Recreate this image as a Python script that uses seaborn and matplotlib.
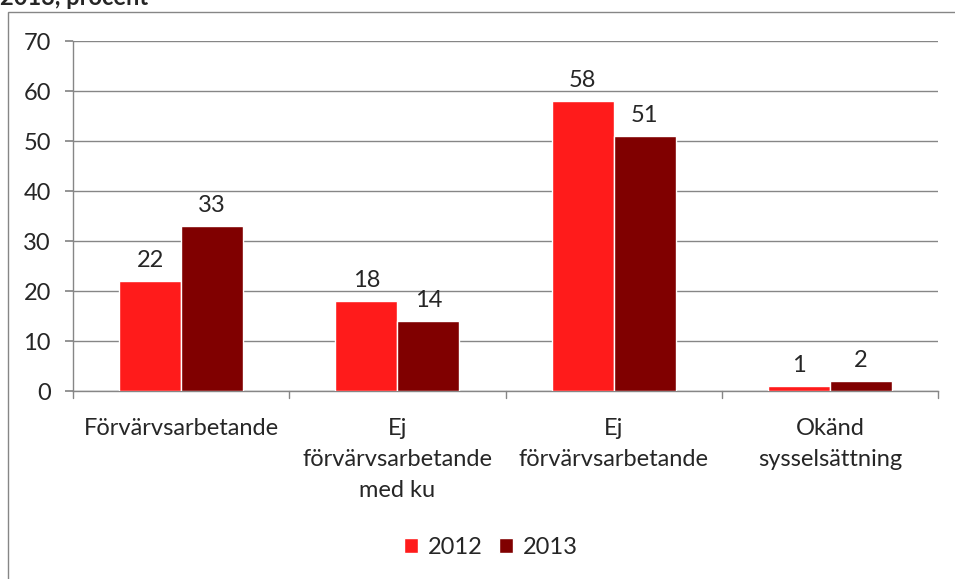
import matplotlib
matplotlib.use("Agg")
import matplotlib.pyplot as plt
import seaborn as sns
import pandas as pd
from matplotlib.patches import Rectangle

# Data
categories = ["Förvärvsarbetande", "Ej\nförvärvsarbetande\nmed ku", "Ej\nförvärvsarbetande", "Okänd\nsysselsättning"]
years = ["2012", "2013"]
values_2012 = [22, 18, 58, 1]
values_2013 = [33, 14, 51, 2]
colors = ["#FF1B1B", "#800000"]

df = pd.DataFrame({
    "kategori": categories * 2,
    "ar": [years[0]] * 4 + [years[1]] * 4,
    "procent": values_2012 + values_2013,
})

sns.set_theme(style="white")
plt.rcParams["font.family"] = ["Lato", "DejaVu Sans"]
fs = 17

fig = plt.figure(figsize=(9.55, 5.79), dpi=100)
ax = fig.add_axes([73 / 955, 1 - 391 / 579, (938 - 73) / 955, 350 / 579])

sns.barplot(data=df, x="kategori", y="procent", hue="ar", palette=colors,
            width=0.574, saturation=1, ax=ax, legend=True, zorder=3)

ax.set_ylim(0, 70)
ax.set_xlim(-0.5, 3.5)
ax.set_yticks(range(0, 71, 10))
ax.yaxis.grid(True, color="#868686", linewidth=1, zorder=0)
ax.set_axisbelow(True)
ax.set_xlabel("")
ax.set_ylabel("")

for side in ["top", "right"]:
    ax.spines[side].set_visible(False)
for side in ["left", "bottom"]:
    ax.spines[side].set_color("#868686")
    ax.spines[side].set_linewidth(1)

ax.tick_params(axis="y", left=True, length=6, color="#868686", labelsize=fs, pad=10)
ax.tick_params(axis="x", bottom=False, labelsize=fs, pad=13.5)
for lab in ax.get_xticklabels():
    lab.set_linespacing(1.6)

# category boundary ticks
for xb in [-0.5, 0.5, 1.5, 2.5, 3.5]:
    ax.plot([xb, xb], [0, -1.4], color="#868686", lw=1, clip_on=False)

for cont in ax.containers:
    ax.bar_label(cont, padding=7, fontsize=fs)

leg = ax.legend(loc="center", bbox_to_anchor=((491 - 73) / 865, -(547 - 391) / 350), ncol=2,
                frameon=False, fontsize=fs, handlelength=0.6, handleheight=0.6,
                handletextpad=0.4, columnspacing=0.7)

fig.patches.append(Rectangle((8 / 955, -0.1), 2, 1 - 12 / 579 + 0.1, transform=fig.transFigure,
                             fill=False, edgecolor="#868686", lw=1))
fig.text(0.0, 1 - 5 / 579, "2013, procent", fontsize=fs, fontweight="bold", va="baseline", ha="left")

fig.savefig("out.png", dpi=100)
